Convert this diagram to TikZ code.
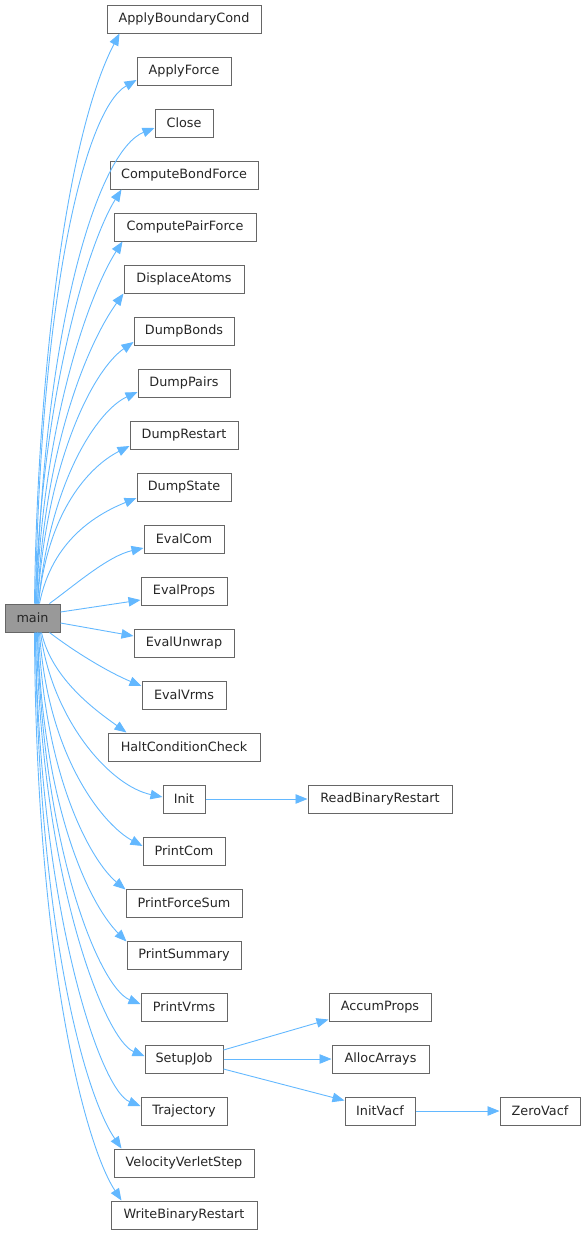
\documentclass[tikz,border=0pt]{standalone}
\usepackage{fontspec}
\setmainfont{DejaVu Sans}
\usetikzlibrary{arrows.meta,calc}
\definecolor{edgeblue}{HTML}{63B8FF}
\definecolor{boxgray}{HTML}{666666}
\definecolor{mainfill}{HTML}{999999}
\tikzset{
  fn/.style={draw=boxgray, line width=1pt, fill=white, minimum height=28pt, inner sep=0pt, font=\fontsize{12.8}{14}\selectfont, text=black!85},
  mainbox/.style={fn, fill=mainfill},
  edge/.style={draw=edgeblue, line width=0.9pt, -{Triangle[length=12pt,width=9.5pt]}}
}
\begin{document}
\begin{tikzpicture}[x=1pt,y=-1pt]
\useasboundingbox (0,0) rectangle (585,1234);
\node[mainbox, minimum width=55pt] (main) at (32.5,618) {main};
\node[fn, minimum width=154pt] (ABC) at (184,19) {ApplyBoundaryCond};
\node[fn, minimum width=94pt] (AF) at (184,71) {ApplyForce};
\node[fn, minimum width=58pt] (CL) at (184,123) {Close};
\node[fn, minimum width=148pt] (CBF) at (184,175) {ComputeBondForce};
\node[fn, minimum width=142pt] (CPF) at (185,227) {ComputePairForce};
\node[fn, minimum width=120pt] (DA) at (184,279) {DisplaceAtoms};
\node[fn, minimum width=100pt] (DB) at (184,331) {DumpBonds};
\node[fn, minimum width=92pt] (DP) at (184,383) {DumpPairs};
\node[fn, minimum width=108pt] (DR) at (184,435) {DumpRestart};
\node[fn, minimum width=94pt] (DS) at (184,487) {DumpState};
\node[fn, minimum width=80pt] (EC) at (184,539) {EvalCom};
\node[fn, minimum width=86pt] (EP) at (184,591) {EvalProps};
\node[fn, minimum width=100pt] (EU) at (184,643) {EvalUnwrap};
\node[fn, minimum width=84pt] (EV) at (184,695) {EvalVrms};
\node[fn, minimum width=152pt] (HCC) at (184,747) {HaltConditionCheck};
\node[fn, minimum width=42pt] (IN) at (184,799) {Init};
\node[fn, minimum width=144pt] (RBR) at (380,799) {ReadBinaryRestart};
\node[fn, minimum width=82pt] (PC) at (184,851) {PrintCom};
\node[fn, minimum width=116pt] (PFS) at (184,903) {PrintForceSum};
\node[fn, minimum width=114pt] (PS) at (184,955) {PrintSummary};
\node[fn, minimum width=86pt] (PV) at (184,1007) {PrintVrms};
\node[fn, minimum width=78pt] (SJ) at (184,1059) {SetupJob};
\node[fn, minimum width=86pt] (TR) at (184,1111) {Trajectory};
\node[fn, minimum width=140pt] (VVS) at (184,1163) {VelocityVerletStep};
\node[fn, minimum width=146pt] (WBR) at (184,1215) {WriteBinaryRestart};
\node[fn, minimum width=102pt] (AP) at (380,1007) {AccumProps};
\node[fn, minimum width=97pt] (AA) at (380.5,1059) {AllocArrays};
\node[fn, minimum width=70pt] (IV) at (380,1111) {InitVacf};
\node[fn, minimum width=80pt] (ZV) at (540,1111) {ZeroVacf};

% upward edges
\draw[edge] ($(main.north)+(2,0)$) .. controls (37,390) and (64,140) .. ($(ABC.south west)+(13,0)$);
\draw[edge] ($(main.north)+(3,0)$) .. controls (40,300) and (84,110) .. ($(AF.west)+(0,9)$);
\draw[edge] ($(main.north)+(4,0)$) .. controls (44,320) and (99,150) .. ($(CL.west)+(0,5)$);
\draw[edge] ($(main.north)+(3,0)$) .. controls (41,400) and (87,245) .. ($(CBF.south west)+(12,0)$);
\draw[edge] ($(main.north)+(4,0)$) .. controls (43,420) and (90,292) .. ($(CPF.south west)+(9,0)$);
\draw[edge] ($(main.north)+(5,0)$) .. controls (45,440) and (90,340) .. ($(DA.south west)+(0,0)$);
\draw[edge] ($(main.north)+(5,0)$) .. controls (47,460) and (93,370) .. ($(DB.west)+(0,11)$);
\draw[edge] ($(main.north)+(6,0)$) .. controls (50,480) and (98,410) .. ($(DP.west)+(0,9)$);
\draw[edge] ($(main.north)+(6,0)$) .. controls (48,510) and (90,466) .. ($(DR.west)+(0,11)$);
\draw[edge] ($(main.north)+(7,0)$) .. controls (52,540) and (97,514) .. ($(DS.west)+(0,11)$);
\draw[edge] ($(main.north)+(17,0)$) .. controls (75,585) and (108,556) .. ($(EC.west)+(0,9)$);
\draw[edge] ($(main.east)+(0,-6)$) -- ($(EP.west)+(0,9)$);
% downward edges
\draw[edge] ($(main.east)+(0,5)$) -- ($(EU.west)+(0,-7)$);
\draw[edge] ($(main.south)+(17,0)$) .. controls (75,652) and (108,672) .. ($(EV.west)+(0,-9)$);
\draw[edge] ($(main.south)+(9,0)$) .. controls (52,680) and (98,712) .. ($(HCC.north west)+(19,0)$);
\draw[edge] ($(main.south)+(8,0)$) .. controls (52,720) and (110,786) .. ($(IN.west)+(0,-2)$);
\draw[edge] ($(main.south)+(7,0)$) .. controls (48,760) and (105,826) .. ($(PC.west)+(0,-5)$);
\draw[edge] ($(main.south)+(6,0)$) .. controls (45,780) and (92,862) .. ($(PFS.north west)+(0,1)$);
\draw[edge] ($(main.south)+(5,0)$) .. controls (43,810) and (90,905) .. ($(PS.north west)+(0,1)$);
\draw[edge] ($(main.south)+(5,0)$) .. controls (42,850) and (100,988) .. ($(PV.west)+(0,-3)$);
\draw[edge] ($(main.south)+(4,0)$) .. controls (41,880) and (105,1040) .. ($(SJ.west)+(0,-3)$);
\draw[edge] ($(main.south)+(3,0)$) .. controls (39,910) and (100,1090) .. ($(TR.west)+(0,-5)$);
\draw[edge] ($(main.south)+(3,0)$) .. controls (38,930) and (85,1095) .. ($(VVS.north west)+(8,0)$);
\draw[edge] ($(main.south)+(2,0)$) .. controls (36,960) and (85,1145) .. ($(WBR.north west)+(11,0)$);
% second level
\draw[edge] (IN) -- (RBR);
\draw[edge] ($(SJ.east)+(0,-9)$) -- ($(AP.south west)+(0,-2)$);
\draw[edge] (SJ) -- (AA);
\draw[edge] ($(SJ.east)+(0,10)$) -- ($(IV.north west)+(0,4)$);
\draw[edge] (IV) -- (ZV);
\end{tikzpicture}
\end{document}
